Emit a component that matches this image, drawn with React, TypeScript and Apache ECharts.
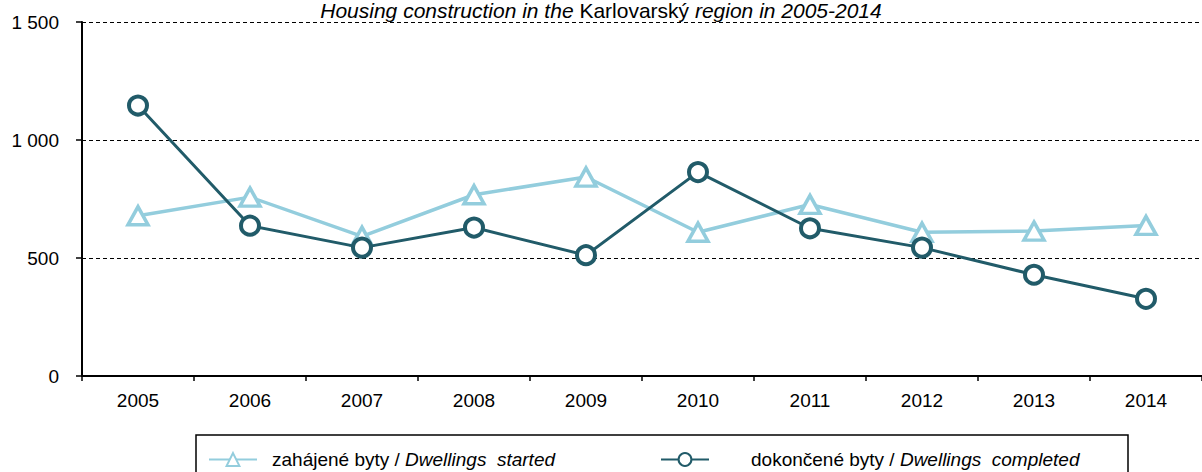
import React, { useEffect, useRef } from "react";
import * as echarts from "echarts";

const years = ["2005", "2006", "2007", "2008", "2009", "2010", "2011", "2012", "2013", "2014"];
const started = [679, 758, 592, 768, 843, 609, 727, 609, 614, 638];
const completed = [1146, 637, 544, 629, 512, 864, 626, 544, 429, 327];
const yTicks = [0, 500, 1000, 1500];

const LIGHT = "#93cddd";
const DARK = "#215b69";
const FONT = "Liberation Sans, Arial, sans-serif";

export default function App() {
  const ref = useRef<HTMLDivElement>(null);
  useEffect(() => {
    if (!ref.current) return;
    const chart = echarts.init(ref.current, null, { renderer: "svg" });
    const rich = {
      n: { fontSize: 19, fontFamily: FONT, color: "#000" },
      i: { fontSize: 19, fontFamily: FONT, color: "#000", fontStyle: "italic" },
    };
    chart.setOption({
      animation: false,
      backgroundColor: "#fff",
      grid: { left: 82, top: 22, bottom: 96, right: -9, containLabel: false },
      xAxis: {
        type: "category",
        data: years,
        boundaryGap: true,
        axisLine: { lineStyle: { color: "#000", width: 2 } },
        axisTick: { show: true, length: 5, lineStyle: { color: "#000", width: 1.5 } },
        axisLabel: { fontSize: 19, fontFamily: FONT, color: "#000", margin: 15 },
        splitLine: { show: false },
      },
      yAxis: {
        type: "value",
        min: yTicks[0],
        max: yTicks[yTicks.length - 1],
        interval: 500,
        axisLine: { show: true, lineStyle: { color: "#000", width: 2 } },
        axisTick: { show: true, length: 6, lineStyle: { color: "#000", width: 1.5 } },
        axisLabel: {
          fontSize: 19,
          fontFamily: FONT,
          color: "#000",
          margin: 23,
          formatter: (v: number) => (v >= 1000 ? String(v).replace(/(\d)(\d{3})$/, "$1 $2") : String(v)),
        },
        splitLine: { show: true, lineStyle: { color: "#000", width: 1, type: [4, 3] } },
      },
      legend: [
        {
          data: [{ name: "started" }],
          left: 208,
          top: 450,
          itemWidth: 48,
          itemHeight: 16,
          padding: 0,
          formatter: () => "{n|zahájené byty / }{i|Dwellings  started}",
          textStyle: { rich, padding: [0, 0, 0, 10] },
        },
        {
          data: [{ name: "completed" }],
          left: 660,
          top: 450,
          itemWidth: 48,
          itemHeight: 16,
          padding: 0,
          formatter: () => "{n|dokončené byty / }{i|Dwellings  completed}",
          textStyle: { rich, padding: [0, 0, 0, 37] },
        },
      ],
      graphic: [
        {
          type: "rect",
          shape: { x: 196, y: 435, width: 932, height: 60 },
          style: { fill: "none", stroke: "#000", lineWidth: 1.5 },
          silent: true,
        },
        {
          type: "text",
          left: "center",
          top: 0,
          style: {
            text: "{i|Housing construction in the }{n|Karlovarský}{i| region in 2005-2014}",
            rich: {
              n: { fontSize: 21, lineHeight: 18, fontFamily: FONT, color: "#000" },
              i: { fontSize: 21, lineHeight: 18, fontFamily: FONT, color: "#000", fontStyle: "italic" },
            },
          },
          silent: true,
        },
      ],
      series: [
        {
          name: "started",
          type: "line",
          data: started,
          symbol: "triangle",
          symbolSize: [20, 18],
          showAllSymbol: true,
          lineStyle: { color: LIGHT, width: 3.5 },
          itemStyle: { color: "#fff", borderColor: LIGHT, borderWidth: 3.5 },
          z: 2,
        },
        {
          name: "completed",
          type: "line",
          data: completed,
          symbol: "circle",
          symbolSize: 18,
          showAllSymbol: true,
          lineStyle: { color: DARK, width: 3 },
          itemStyle: { color: "#fff", borderColor: DARK, borderWidth: 4 },
          z: 3,
        },
      ],
    });
    return () => chart.dispose();
  }, []);
  return (
    <div
      ref={ref}
      style={{ position: "fixed", left: 0, top: 0, width: 1202, height: 472, background: "#fff" }}
    />
  );
}
